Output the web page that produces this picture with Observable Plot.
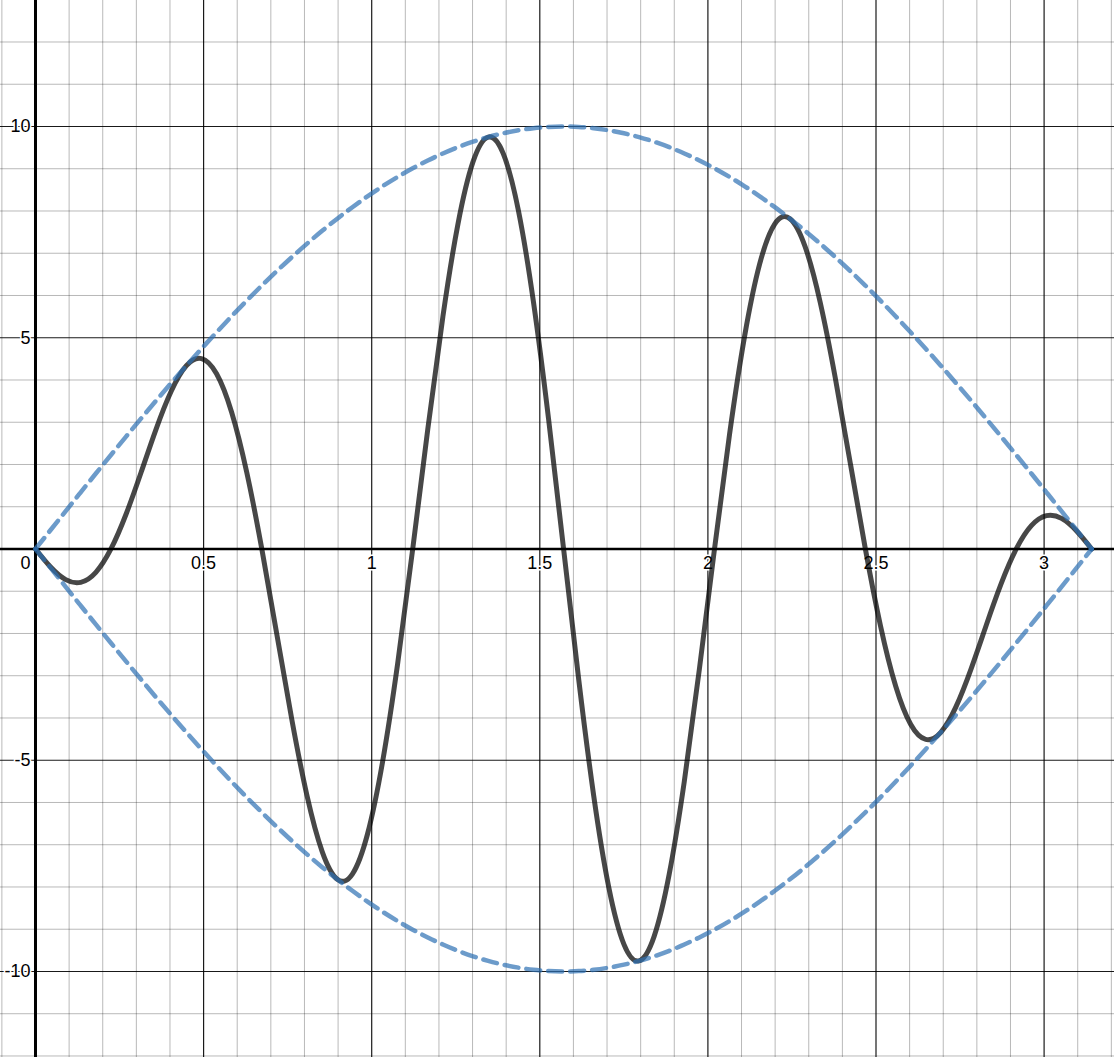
<!DOCTYPE html>
<html>
<head>
<meta charset="utf-8">
<script src="https://cdn.jsdelivr.net/npm/d3@7"></script>
<script src="https://cdn.jsdelivr.net/npm/@observablehq/plot@0.6"></script>
<style>
  html, body { margin: 0; padding: 0; background: #fff; overflow: hidden; }
  #chart svg { display: block; }
</style>
</head>
<body>
<div id="chart"></div>
<script>
// Sample positions along x (0 … π)
const xs = [0, 0.0449, 0.0898, 0.1346, 0.1795, 0.2244, 0.2693, 0.3142, 0.3590, 0.4039,
  0.4488, 0.4937, 0.5386, 0.5834, 0.6283, 0.6732, 0.7181, 0.7630, 0.8078, 0.8527,
  0.8976, 0.9425, 0.9874, 1.0322, 1.0771, 1.1220, 1.1669, 1.2118, 1.2566, 1.3015,
  1.3464, 1.3913, 1.4362, 1.4810, 1.5259, 1.5708, 1.6157, 1.6606, 1.7054, 1.7503,
  1.7952, 1.8401, 1.8850, 1.9298, 1.9747, 2.0196, 2.0645, 2.1094, 2.1542, 2.1991,
  2.2440, 2.2889, 2.3338, 2.3786, 2.4235, 2.4684, 2.5133, 2.5582, 2.6030, 2.6479,
  2.6928, 2.7377, 2.7826, 2.8274, 2.8723, 2.9172, 2.9621, 3.0070, 3.0518, 3.0967, 3.1416];

// Solid dark curve
const wave = [0, -0.427, -0.725, -0.789, -0.552, 0, 0.822, 1.816, 2.843, 3.738,
  4.339, 4.507, 4.149, 3.238, 1.816, 0, -2.033, -4.062, -5.847, -7.162,
  -7.818, -7.695, -6.752, -5.046, -2.721, 0, 2.841, 5.503, 7.694, 9.168,
  9.749, 9.358, 8.017, 5.854, 3.087, 0, -3.087, -5.854, -8.017, -9.358,
  -9.749, -9.168, -7.694, -5.503, -2.841, 0, 2.721, 5.046, 6.752, 7.695,
  7.818, 7.162, 5.847, 4.062, 2.033, 0, -1.816, -3.238, -4.149, -4.507,
  -4.339, -3.738, -2.843, -1.816, -0.822, 0, 0.552, 0.789, 0.725, 0.427, 0];

// Dashed upper envelope
const upper = [0, 0.449, 0.896, 1.342, 1.786, 2.225, 2.660, 3.090, 3.514, 3.930,
  4.339, 4.739, 5.129, 5.509, 5.878, 6.235, 6.579, 6.911, 7.228, 7.531,
  7.818, 8.090, 8.346, 8.585, 8.806, 9.010, 9.195, 9.362, 9.511, 9.640,
  9.749, 9.839, 9.909, 9.960, 9.990, 10, 9.990, 9.960, 9.909, 9.839,
  9.749, 9.640, 9.511, 9.362, 9.195, 9.010, 8.806, 8.585, 8.346, 8.090,
  7.818, 7.531, 7.228, 6.911, 6.579, 6.235, 5.878, 5.509, 5.129, 4.739,
  4.339, 3.930, 3.514, 3.090, 2.660, 2.225, 1.786, 1.342, 0.896, 0.449, 0];

// Dashed lower envelope
const lower = [0, -0.449, -0.896, -1.342, -1.786, -2.225, -2.660, -3.090, -3.514, -3.930,
  -4.339, -4.739, -5.129, -5.509, -5.878, -6.235, -6.579, -6.911, -7.228, -7.531,
  -7.818, -8.090, -8.346, -8.585, -8.806, -9.010, -9.195, -9.362, -9.511, -9.640,
  -9.749, -9.839, -9.909, -9.960, -9.990, -10, -9.990, -9.960, -9.909, -9.839,
  -9.749, -9.640, -9.511, -9.362, -9.195, -9.010, -8.806, -8.585, -8.346, -8.090,
  -7.818, -7.531, -7.228, -6.911, -6.579, -6.235, -5.878, -5.509, -5.129, -4.739,
  -4.339, -3.930, -3.514, -3.090, -2.660, -2.225, -1.786, -1.342, -0.896, -0.449, 0];

// Grid and tick values
const minorX = [-0.1, 0.1, 0.2, 0.3, 0.4, 0.6, 0.7, 0.8, 0.9, 1.1, 1.2, 1.3, 1.4, 1.6, 1.7, 1.8, 1.9,
  2.1, 2.2, 2.3, 2.4, 2.6, 2.7, 2.8, 2.9, 3.1, 3.2];
const minorY = [-12, -11, -9, -8, -7, -6, -4, -3, -2, -1, 1, 2, 3, 4, 6, 7, 8, 9, 11, 12];
const majorX = [0.5, 1, 1.5, 2, 2.5, 3];
const majorY = [-10, -5, 5, 10];
const xTickLabels = ["0.5", "1", "1.5", "2", "2.5", "3"];
const yTickLabels = ["-10", "-5", "5", "10"];

const W = 1114, H = 1057;
const font = "'Liberation Sans', Arial, Helvetica, sans-serif";

const chart = Plot.plot({
  width: W,
  height: H,
  margin: 0,
  style: { background: "#fff", fontFamily: font },
  x: { domain: [-0.1041, 3.2094], axis: null },
  y: { domain: [-12.036, 12.982], axis: null },
  marks: [
    Plot.ruleX(minorX, { stroke: "#000", strokeOpacity: 0.28, strokeWidth: 1 }),
    Plot.ruleY(minorY, { stroke: "#000", strokeOpacity: 0.28, strokeWidth: 1 }),
    Plot.ruleX(majorX, { stroke: "#000", strokeOpacity: 0.9, strokeWidth: 1.2 }),
    Plot.ruleY(majorY, { stroke: "#000", strokeOpacity: 0.9, strokeWidth: 1.2 }),
    Plot.ruleX([0], { stroke: "#000", strokeWidth: 3 }),
    Plot.ruleY([0], { stroke: "#000", strokeWidth: 2.5 }),
    Plot.text(majorX, {
      x: d => d, y: 0, text: (d, i) => xTickLabels[i],
      dy: 14.5, fontSize: 18, fill: "#000", stroke: "#fff", strokeWidth: 3,
      textAnchor: "middle", lineAnchor: "middle", fontFamily: font
    }),
    Plot.text(majorY, {
      x: 0, y: d => d, text: (d, i) => yTickLabels[i],
      dx: -5, fontSize: 18, fill: "#000", stroke: "#fff", strokeWidth: 3,
      textAnchor: "end", lineAnchor: "middle", fontFamily: font
    }),
    Plot.text(["0"], {
      x: 0, y: 0, text: d => d, dx: -5, dy: 14.5, fontSize: 18, fill: "#000",
      stroke: "#fff", strokeWidth: 3, textAnchor: "end", lineAnchor: "middle", fontFamily: font
    }),
    Plot.line({ length: xs.length }, {
      x: xs, y: wave, curve: "natural",
      stroke: "#000", strokeOpacity: 0.72, strokeWidth: 5
    }),
    Plot.line({ length: xs.length }, {
      x: xs, y: upper, curve: "natural",
      stroke: "#2d70b3", strokeOpacity: 0.7, strokeWidth: 4.5, strokeDasharray: "14,8"
    }),
    Plot.line({ length: xs.length }, {
      x: xs, y: lower, curve: "natural",
      stroke: "#2d70b3", strokeOpacity: 0.7, strokeWidth: 4.5, strokeDasharray: "14,8"
    })
  ]
});

document.getElementById("chart").appendChild(chart);
</script>
</body>
</html>
